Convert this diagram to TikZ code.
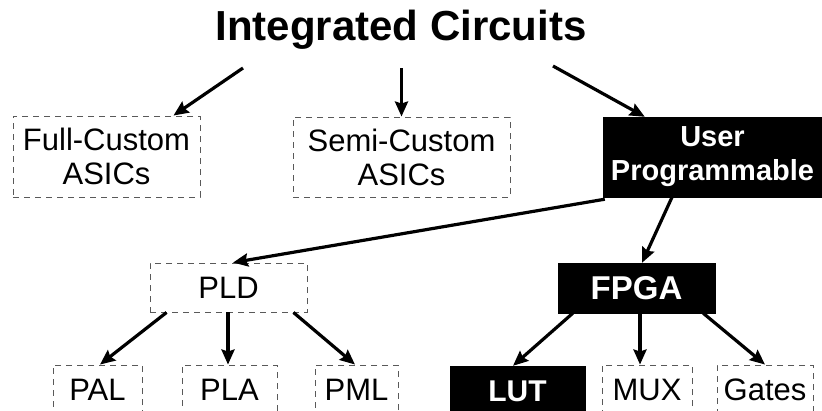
\documentclass[tikz,border=0pt]{standalone}
\usepackage{fontspec}
\setmainfont{Liberation Sans}
\usetikzlibrary{arrows.meta,calc}

\tikzset{
  lightbox/.style={draw=black!65, line width=0.9pt, dash pattern=on 6pt off 5pt,
    inner sep=0pt, align=center, font=\fontsize{31}{34}\selectfont},
  darkbox/.style={draw=black, fill=black, text=white, inner sep=0pt, align=center,
    font=\bfseries\fontsize{30}{34}\selectfont},
  arr/.style={line width=3.2pt, -{Stealth[length=15pt,width=13pt,inset=2pt]}},
}

\begin{document}
\begin{tikzpicture}[x=1pt, y=-1pt]
  \useasboundingbox (0,0) rectangle (822,410);
  \clip (0,0) rectangle (822,410);

  % root
  \node[font=\bfseries\fontsize{42}{46}\selectfont] (title) at (401,30) {Integrated Circuits};

  % second level
  \node[lightbox, minimum width=187pt, minimum height=81pt] (full) at (106.5,156.5) {Full-Custom\\ASICs};
  \node[lightbox, minimum width=217pt, minimum height=80pt] (semi) at (401.5,157) {Semi-Custom\\ASICs};
  \node[darkbox, minimum width=219pt, minimum height=80pt,
        font=\bfseries\fontsize{29}{34}\selectfont] (user) at (712.5,157) {User\\Programmable};

  % third level
  \node[lightbox, minimum width=157pt, minimum height=49pt] (pld) at (228.5,287.5) {PLD};
  \node[darkbox, minimum width=157pt, minimum height=50pt,
        font=\bfseries\fontsize{33}{36}\selectfont] (fpga) at (636.5,288) {FPGA};

  % leaves
  \node[lightbox, minimum width=89pt, minimum height=50pt] (pal) at (97.5,390) {PAL};
  \node[lightbox, minimum width=95pt, minimum height=50pt] (pla) at (229.5,390) {PLA};
  \node[lightbox, minimum width=83pt, minimum height=50pt] (pml) at (356.5,390) {PML};
  \node[darkbox, minimum width=135pt, minimum height=50pt] (lut) at (517.5,391) {LUT};
  \node[lightbox, minimum width=90pt, minimum height=50pt] (mux) at (647,390) {MUX};
  \node[lightbox, minimum width=96pt, minimum height=50pt] (gates) at (765,390) {Gates};

  % start points under the title
  \coordinate (t1) at (243,68);
  \coordinate (t2) at (401.5,68);
  \coordinate (t3) at (553,66);

  % connectors
  \draw[arr] (t1) -- ($(full.north east)+(-27,0)$);
  \draw[arr] (t2) -- (semi.north);
  \draw[arr] (t3) -- ($(user.north west)+(42,0)$);

  \draw[arr] ($(user.south west)+(2,2)$) -- ($(pld.north)+(4.5,0)$);
  \draw[arr] ($(user.south)+(-40.5,0)$) -- ($(fpga.north)+(5.5,0)$);

  \draw[arr] ($(pld.south west)+(17,0)$) -- ($(pal.north)+(2.5,0)$);
  \draw[arr] ($(pld.south)+(-0.5,0)$) -- ($(pla.north)+(-1.5,0)$);
  \draw[arr] ($(pld.south east)+(-14,0)$) -- ($(pml.north)+(-1.5,0)$);

  \draw[arr] ($(fpga.south west)+(15,0)$) -- ($(lut.north)+(-4.5,0)$);
  \draw[arr] ($(fpga.south)+(3.5,0)$) -- ($(mux.north)+(-7,0)$);
  \draw[arr] ($(fpga.south east)+(-12,0)$) -- (gates.north);
\end{tikzpicture}
\end{document}
